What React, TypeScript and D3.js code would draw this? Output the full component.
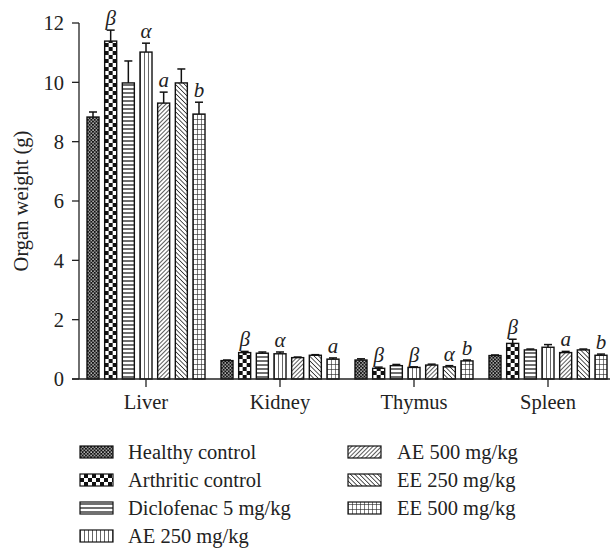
import React from "react";
import * as d3 from "d3";

const organs = ["Liver", "Kidney", "Thymus", "Spleen"];
const groups = [
  "Healthy control",
  "Arthritic control",
  "Diclofenac 5 mg/kg",
  "AE 250 mg/kg",
  "AE 500 mg/kg",
  "EE 250 mg/kg",
  "EE 500 mg/kg",
];

// mean organ weight (g), one array per group, ordered as organs
const healthyControl = [8.83, 0.62, 0.64, 0.79];
const arthriticControl = [11.39, 0.89, 0.36, 1.2];
const diclofenac5 = [9.98, 0.87, 0.45, 0.98];
const ae250 = [11.02, 0.85, 0.39, 1.07];
const ae500 = [9.3, 0.72, 0.47, 0.89];
const ee250 = [9.98, 0.8, 0.41, 0.98];
const ee500 = [8.93, 0.67, 0.61, 0.8];

// standard error, same layout
const healthyErr = [0.17, 0.02, 0.04, 0.02];
const arthriticErr = [0.37, 0.04, 0.04, 0.14];
const diclofenacErr = [0.74, 0.04, 0.04, 0.03];
const ae250Err = [0.3, 0.06, 0.02, 0.09];
const ae500Err = [0.37, 0.02, 0.03, 0.04];
const ee250Err = [0.47, 0.02, 0.04, 0.03];
const ee500Err = [0.4, 0.04, 0.03, 0.04];

// significance marks per group, ordered as organs
const healthyMarks = ["", "", "", ""];
const arthriticMarks = ["β", "β", "β", "β"];
const diclofenacMarks = ["", "", "", ""];
const ae250Marks = ["α", "α", "β", ""];
const ae500Marks = ["a", "", "", "a"];
const ee250Marks = ["", "", "α", ""];
const ee500Marks = ["b", "a", "b", "b"];

const yTicks = [0, 2, 4, 6, 8, 10, 12];

const means = [healthyControl, arthriticControl, diclofenac5, ae250, ae500, ee250, ee500];
const errs = [healthyErr, arthriticErr, diclofenacErr, ae250Err, ae500Err, ee250Err, ee500Err];
const marks = [healthyMarks, arthriticMarks, diclofenacMarks, ae250Marks, ae500Marks, ee250Marks, ee500Marks];

const patternIds = ["p-dots", "p-check", "p-hlines", "p-vlines", "p-fdiag", "p-bdiag", "p-grid"];

const FONT = "'Liberation Serif', 'DejaVu Serif', serif";
const TEXT_SIZE = 20.5;

function Patterns() {
  return (
    <defs>
      <pattern id="p-dots" patternUnits="userSpaceOnUse" width={3.4} height={3.4}>
        <rect width={3.4} height={3.4} fill="#111" />
        <rect x={0.3} y={0.3} width={1.3} height={1.3} fill="#fff" />
        <rect x={2.0} y={2.0} width={1.3} height={1.3} fill="#fff" />
      </pattern>
      <pattern id="p-check" patternUnits="userSpaceOnUse" width={8} height={8}>
        <rect width={8} height={8} fill="#fff" />
        <rect x={0} y={0} width={4} height={4} fill="#111" />
        <rect x={4} y={4} width={4} height={4} fill="#111" />
      </pattern>
      <pattern id="p-hlines" patternUnits="userSpaceOnUse" width={4} height={4}>
        <rect width={4} height={4} fill="#fff" />
        <line x1={0} x2={4} y1={2} y2={2} stroke="#222" strokeWidth={1.3} />
      </pattern>
      <pattern id="p-vlines" patternUnits="userSpaceOnUse" width={4} height={4}>
        <rect width={4} height={4} fill="#fff" />
        <line x1={0} x2={0} y1={0} y2={4} stroke="#222" strokeWidth={1.4} />
      </pattern>
      <pattern id="p-fdiag" patternUnits="userSpaceOnUse" width={3} height={3} patternTransform="rotate(45)">
        <rect width={3} height={3} fill="#fff" />
        <line x1={0} x2={0} y1={0} y2={3} stroke="#222" strokeWidth={1.5} />
      </pattern>
      <pattern id="p-bdiag" patternUnits="userSpaceOnUse" width={3.2} height={3.2} patternTransform="rotate(-45)">
        <rect width={3.2} height={3.2} fill="#fff" />
        <line x1={0} x2={0} y1={0} y2={3.2} stroke="#222" strokeWidth={1.5} />
      </pattern>
      <pattern id="p-grid" patternUnits="userSpaceOnUse" width={4} height={5}>
        <rect width={4} height={5} fill="#fff" />
        <line x1={0} x2={0} y1={0} y2={5} stroke="#222" strokeWidth={1.2} />
        <line x1={0} x2={4} y1={0} y2={0} stroke="#222" strokeWidth={1.2} />
      </pattern>
    </defs>
  );
}

export default function App() {
  const width = 610;
  const height = 550;
  const axisX = 79;

  const y = d3.scaleLinear().domain([0, 12]).range([379, 23]);
  const x = d3.scaleBand().domain(organs).range([axisX, axisX + 536]).padding(0);
  const inner = d3.scaleBand().domain(groups).range([-59, 59]).paddingInner(0.32).paddingOuter(0);
  const bw = inner.bandwidth();
  const y0 = y(0);

  const legendCols = [
    { sx: 80, tx: 128, items: [0, 1, 2, 3] },
    { sx: 348, tx: 397, items: [4, 5, 6] },
  ];

  return (
    <svg
      width={width}
      height={height}
      style={{ position: "absolute", left: 0, top: 0, background: "#fff" }}
      fontFamily={FONT}
    >
      <Patterns />

      {/* bars, error bars and significance marks */}
      {organs.map((organ, oi) => {
        const cx = (x(organ) as number) + x.bandwidth() / 2;
        return (
          <g key={organ}>
            {groups.map((g, gi) => {
              const bx = cx + (inner(g) as number);
              const v = means[gi][oi];
              const e = errs[gi][oi];
              const top = y(v);
              const etop = y(v + e);
              const mid = bx + bw / 2;
              return (
                <g key={g}>
                  <g transform={`translate(${bx},${y0})`}>
                    <rect
                      x={0}
                      y={top - y0}
                      width={bw}
                      height={y0 - top}
                      fill={`url(#${patternIds[gi]})`}
                      stroke="#111"
                      strokeWidth={1.4}
                    />
                  </g>
                  <line x1={mid} x2={mid} y1={top} y2={etop} stroke="#111" strokeWidth={1.5} />
                  <line x1={mid - 4} x2={mid + 4} y1={etop} y2={etop} stroke="#111" strokeWidth={1.5} />
                  {marks[gi][oi] && (
                    <text
                      x={mid}
                      y={etop - 5}
                      textAnchor="middle"
                      fontStyle="italic"
                      fontSize={21}
                      fill="#222"
                    >
                      {marks[gi][oi]}
                    </text>
                  )}
                </g>
              );
            })}
          </g>
        );
      })}

      {/* y axis */}
      <line x1={axisX} x2={axisX} y1={y(12)} y2={y0} stroke="#222" strokeWidth={1.3} />
      {yTicks.map((t) => (
        <g key={t}>
          <line x1={72} x2={axisX} y1={y(t)} y2={y(t)} stroke="#222" strokeWidth={1.3} />
          <text x={64} y={y(t)} dy="0.35em" textAnchor="end" fontSize={TEXT_SIZE} fill="#222">
            {t}
          </text>
        </g>
      ))}
      <text
        transform={`translate(28,${(y(12) + y0) / 2}) rotate(-90)`}
        textAnchor="middle"
        fontSize={TEXT_SIZE}
        fill="#222"
      >
        Organ weight (g)
      </text>

      {/* x axis */}
      <line x1={72} x2={width} y1={y0} y2={y0} stroke="#222" strokeWidth={1.3} />
      {organs.map((organ) => {
        const cx = (x(organ) as number) + x.bandwidth() / 2;
        return (
          <g key={organ}>
            <line x1={cx} x2={cx} y1={y0} y2={y0 + 8} stroke="#222" strokeWidth={1.3} />
            <text x={cx} y={y0 + 30} textAnchor="middle" fontSize={TEXT_SIZE} fill="#222">
              {organ}
            </text>
          </g>
        );
      })}

      {/* legend */}
      {legendCols.map((col, ci) => (
        <g key={ci}>
          {col.items.map((gi, ri) => {
            const cy = 452 + ri * 28;
            return (
              <g key={gi}>
                <g transform={`translate(${col.sx},${cy + 6})`}>
                  <rect
                    x={0}
                    y={-12}
                    width={33}
                    height={12}
                    fill={`url(#${patternIds[gi]})`}
                    stroke="#111"
                    strokeWidth={1.2}
                  />
                </g>
                <text x={col.tx} y={cy} dy="0.35em" fontSize={TEXT_SIZE} fill="#222">
                  {groups[gi]}
                </text>
              </g>
            );
          })}
        </g>
      ))}
    </svg>
  );
}
